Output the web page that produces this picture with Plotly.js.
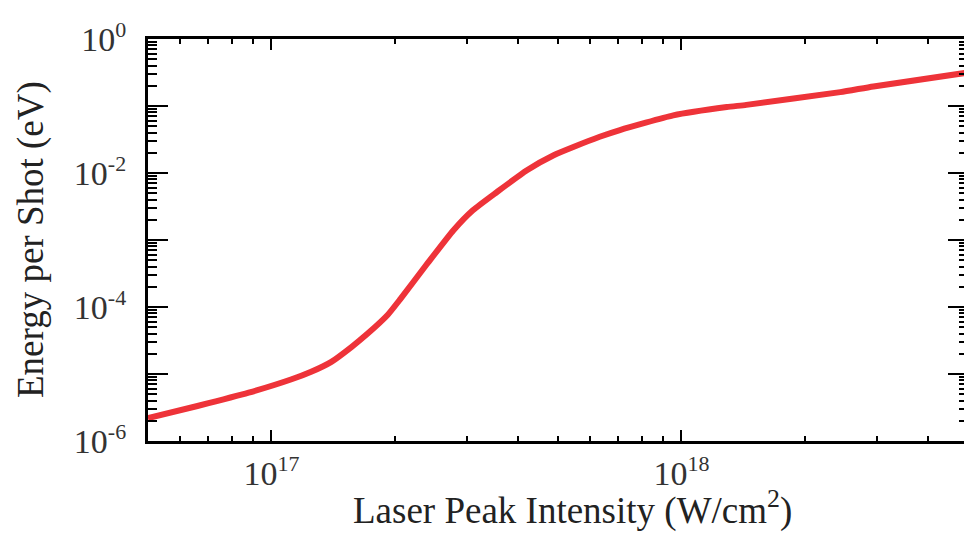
<!DOCTYPE html>
<html>
<head>
<meta charset="utf-8">
<script src="https://cdn.plot.ly/plotly-3.0.1.min.js"></script>
<style>
html, body { margin: 0; padding: 0; overflow: hidden; background: #fff; }
#chart { width: 972px; height: 534px; }
</style>
</head>
<body>
<div id="chart"></div>
<script>
// Laser peak intensity (W/cm^2)
const intensity = [5.0e16, 6.6e16, 8.8e16, 1.12e17, 1.25e17, 1.40e17, 1.57e17, 1.72e17, 1.92e17, 2.06e17,
  2.39e17, 2.78e17, 3.10e17, 3.55e17, 4.20e17, 4.88e17, 5.45e17, 6.32e17, 7.08e17, 9.55e17,
  1.29e18, 1.44e18, 2.44e18, 2.94e18, 5.0e18];
// Energy per shot (eV)
const energy = [2.19e-6, 3.33e-6, 5.26e-6, 8.34e-6, 1.08e-5, 1.52e-5, 2.55e-5, 4.05e-5, 7.6e-5, 1.30e-4,
  4.3e-4, 1.40e-3, 2.78e-3, 5.21e-3, 1.10e-2, 1.84e-2, 2.44e-2, 3.47e-2, 4.37e-2, 7.24e-2,
  9.64e-2, 1.04e-1, 1.61e-1, 1.96e-1, 3.16e-1];

const supSpan = s => '<sup><span style="font-size:22px">' + s + '</span></sup>';
const xMajorVals = [1e17, 1e18];
const xMajorText = ['10' + supSpan('17'), '10' + supSpan('18')];
const xMinorVals = [6e16, 7e16, 8e16, 9e16, 2e17, 3e17, 4e17, 5e17, 6e17, 7e17, 8e17, 9e17,
  2e18, 3e18, 4e18, 5e18];
const yMajorVals = [1e-6, 1e-5, 1e-4, 1e-3, 1e-2, 1e-1, 1e0];
const yMajorText = ['10' + supSpan('-6'), '', '10' + supSpan('-4'), '', '10' + supSpan('-2'), '', '10' + supSpan('0')];
const yMinorVals = [];
for (let e = -6; e < 0; e++) {
  for (let m = 2; m <= 9; m++) yMinorVals.push(m * Math.pow(10, e));
}

const serif = '"Liberation Serif", "DejaVu Serif", serif';

const trace = {
  x: intensity,
  y: energy,
  type: 'scatter',
  mode: 'lines',
  line: { color: '#ee3339', width: 6, shape: 'spline', smoothing: 0.5 },
  hoverinfo: 'none'
};

const layout = {
  width: 972,
  height: 534,
  margin: { l: 148, r: 4, t: 39, b: 93 },
  paper_bgcolor: '#ffffff',
  plot_bgcolor: '#ffffff',
  showlegend: false,
  xaxis: {
    type: 'log',
    range: [Math.log10(5e16), Math.log10(5e18)],
    tickmode: 'array',
    tickvals: xMajorVals,
    ticktext: xMajorText,
    ticks: 'inside',
    ticklen: 11,
    tickwidth: 2,
    tickcolor: '#000',
    showline: true,
    linewidth: 3,
    linecolor: '#000',
    mirror: 'allticks',
    showgrid: false,
    zeroline: false,
    tickfont: { family: serif, size: 34, color: '#333' },
    minor: { tickmode: 'array', tickvals: xMinorVals, ticks: 'inside', ticklen: 5, tickwidth: 2, tickcolor: '#000', showgrid: false }
  },
  yaxis: {
    type: 'log',
    range: [-6, 0],
    tickmode: 'array',
    tickvals: yMajorVals,
    ticktext: yMajorText,
    ticks: 'inside',
    ticklen: 20,
    tickwidth: 2,
    tickcolor: '#000',
    showline: true,
    linewidth: 3,
    linecolor: '#000',
    mirror: 'allticks',
    showgrid: false,
    zeroline: false,
    ticklabelstandoff: 12,
    tickfont: { family: serif, size: 34, color: '#333' },
    minor: { tickmode: 'array', tickvals: yMinorVals, ticks: 'inside', ticklen: 9, tickwidth: 2, tickcolor: '#000', showgrid: false }
  },
  annotations: [{
    text: 'Laser Peak Intensity (W/cm<sup>2</sup>)',
    xref: 'paper', yref: 'paper',
    x: (572.5 - 148) / 820, y: 0,
    xanchor: 'center', yanchor: 'middle',
    yshift: -67,
    showarrow: false,
    font: { family: serif, size: 37, color: '#222' }
  }, {
    text: 'Energy per Shot (eV)',
    xref: 'paper', yref: 'paper',
    x: (31 - 148) / 820, y: 0.5,
    xanchor: 'center', yanchor: 'middle',
    textangle: -90,
    showarrow: false,
    font: { family: serif, size: 37, color: '#222' }
  }]
};

Plotly.newPlot('chart', [trace], layout, { displayModeBar: false, staticPlot: true });
</script>
</body>
</html>
